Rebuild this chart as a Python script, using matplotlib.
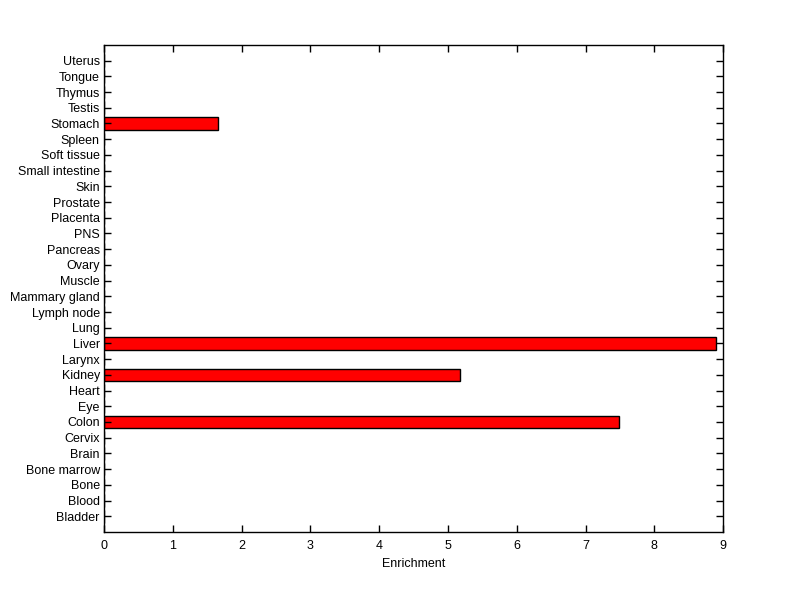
import matplotlib
matplotlib.use("Agg")
import matplotlib.pyplot as plt

tissues = ["Bladder", "Blood", "Bone", "Bone marrow", "Brain", "Cervix", "Colon",
           "Eye", "Heart", "Kidney", "Larynx", "Liver", "Lung", "Lymph node",
           "Mammary gland", "Muscle", "Ovary", "Pancreas", "PNS", "Placenta",
           "Prostate", "Skin", "Small intestine", "Soft tissue", "Spleen",
           "Stomach", "Testis", "Thymus", "Tongue", "Uterus"]
enrichment = [0, 0, 0, 0, 0, 0, 7.49,
              0, 0, 5.17, 0, 8.9, 0, 0,
              0, 0, 0, 0, 0, 0,
              0, 0, 0, 0, 0,
              1.66, 0, 0, 0, 0]
xticks = list(range(10))

plt.rcParams["font.family"] = ["Liberation Sans", "DejaVu Sans"]

fig = plt.figure(figsize=(8, 5.99), dpi=100)
ax = fig.add_axes([0.13, 0.1119, 0.774, 0.8131])

pos = list(range(1, len(tissues) + 1))
ax.barh(pos, enrichment, height=0.8, color="#ff0000", edgecolor="black", linewidth=1)

ax.set_xlim(0, 9)
ax.set_ylim(0, len(tissues) + 1)
ax.set_xticks(xticks)
ax.set_yticks(pos)
ax.set_yticklabels(tissues)
ax.set_xlabel("Enrichment", fontsize=9, labelpad=4)
ax.tick_params(direction="in", length=5, width=1, top=True, right=True,
               labelsize=9)
ax.tick_params(axis="x", pad=6)
ax.tick_params(axis="y", pad=3)
for s in ax.spines.values():
    s.set_linewidth(1)

fig.savefig("out.png", dpi=100)
